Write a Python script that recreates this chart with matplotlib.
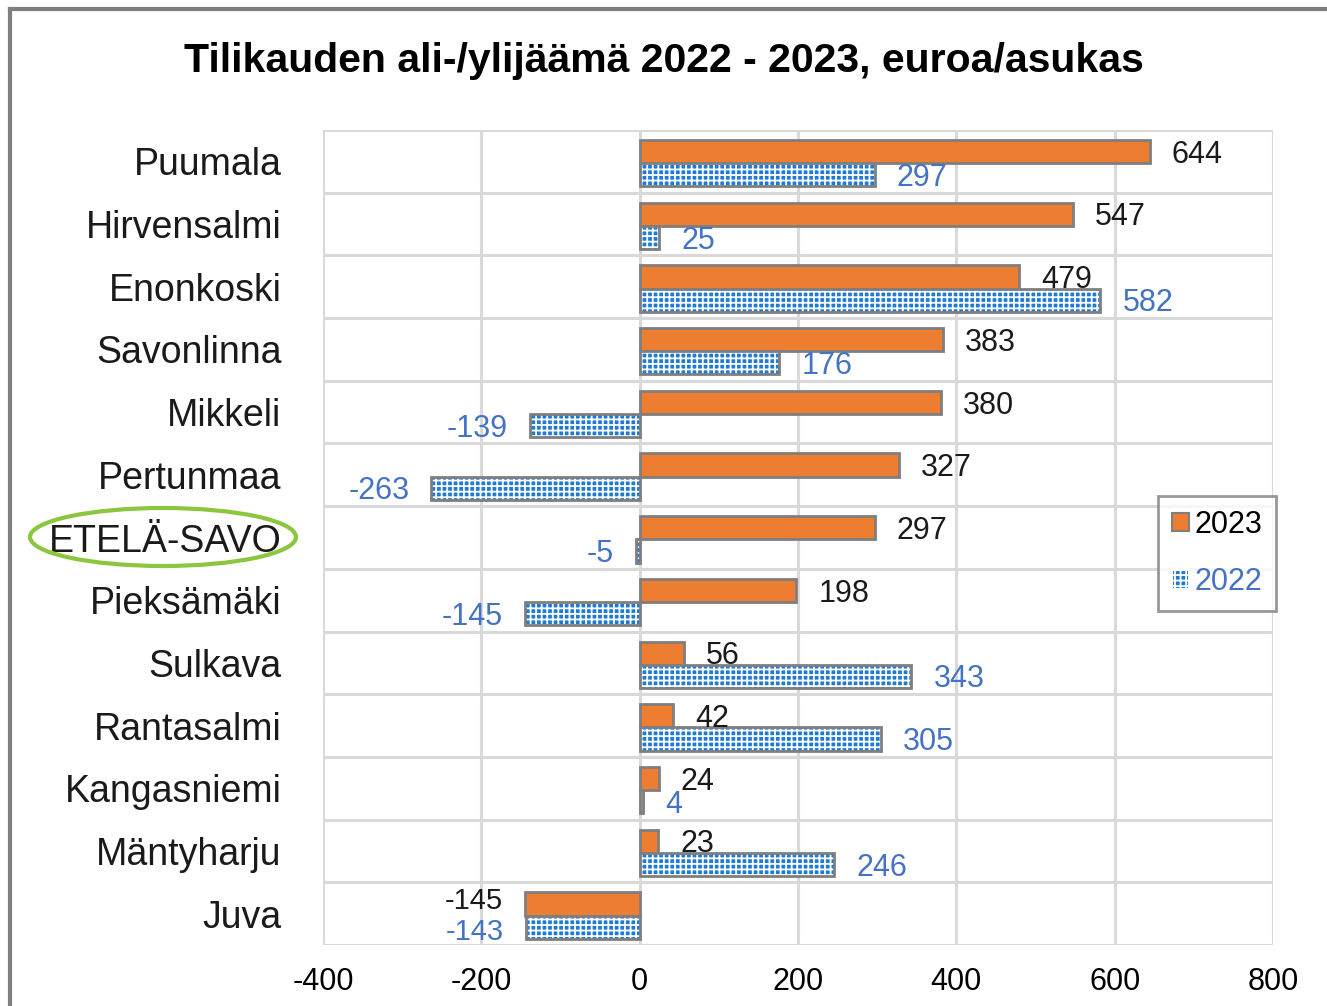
import numpy as np
import matplotlib
matplotlib.use("Agg")
import matplotlib.pyplot as plt
from matplotlib.patches import Ellipse, Patch
from matplotlib.lines import Line2D

# Data
kunnat = ["Puumala", "Hirvensalmi", "Enonkoski", "Savonlinna", "Mikkeli", "Pertunmaa",
          "ETELÄ-SAVO", "Pieksämäki", "Sulkava", "Rantasalmi", "Kangasniemi",
          "Mäntyharju", "Juva"]
v2023 = [644, 547, 479, 383, 380, 327, 297, 198, 56, 42, 24, 23, -145]
v2022 = [297, 25, 582, 176, -139, -263, -5, -145, 343, 305, 4, 246, -143]
xticks = [-400, -200, 0, 200, 400, 600, 800]

plt.rcParams['font.family'] = ['Liberation Sans', 'DejaVu Sans']
plt.rcParams['hatch.linewidth'] = 1.3

oranssi = "#ED7D31"
sininen = "#1f7ad4"
tekstisin = "#4472C4"
harmaa = "#7f7f7f"
grid = "#d9d9d9"

fig = plt.figure(figsize=(13.27, 10.06), dpi=100)
ax = fig.add_axes([323/1327, 1 - 945/1006, 950/1327, 815/1006])

n = len(kunnat)
y = np.arange(n)
h = 0.37
off = -0.03

# 2023
ax.barh(y - h/2 - off, v2023, height=h, color=oranssi, edgecolor=harmaa, linewidth=2, zorder=3)
# 2022 patterned
ax.barh(y + h/2 - off, v2022, height=h, color=sininen, edgecolor="white", hatch="+++", linewidth=0, zorder=3)
ax.barh(y + h/2 - off, v2022, height=h, color="none", edgecolor=harmaa, linewidth=2, zorder=4)

# Labels
for i in range(n):
    a = v2023[i]
    b = v2022[i]
    ya = i - h/2 - off + 0.05
    yb = i + h/2 - off + 0.05
    fs = 22
    if a < 0 and b < 0:
        # both labels on the left side, keep them apart a little
        ya -= 0.1
        yb += 0.03
        fs = 21
    if a >= 0:
        ax.text(a + 28, ya, str(a), ha="left", va="center", fontsize=fs, color="#1a1a1a", zorder=5)
    else:
        ax.text(a - 28, ya, str(a), ha="right", va="center", fontsize=fs, color="#1a1a1a", zorder=5)
    if b >= 0:
        ax.text(b + 28, yb, str(b), ha="left", va="center", fontsize=fs, color=tekstisin, zorder=5)
    else:
        ax.text(b - 28, yb, str(b), ha="right", va="center", fontsize=fs, color=tekstisin, zorder=5)

ax.set_xlim(-400, 800)
ax.set_ylim(n - 0.5, -0.5)
ax.set_xticks(xticks)
ax.set_xticklabels([str(t) for t in xticks], fontsize=22)
ax.set_yticks(y)
ax.set_yticklabels(kunnat, fontsize=27, color="#1a1a1a")
ax.tick_params(axis="both", length=0)
ax.tick_params(axis="y", pad=30)
ax.tick_params(axis="x", pad=16)

# grid
for xv in xticks:
    ax.axvline(xv, color=grid, lw=2.2, zorder=1)
for yv in np.arange(-0.5, n, 1.0):
    ax.axhline(yv, color=grid, lw=2.2, zorder=1)
for s in ax.spines.values():
    s.set_visible(False)

# legend
hand = [Patch(facecolor=oranssi, edgecolor=harmaa, linewidth=1.5),
        Patch(facecolor=sininen, edgecolor="white", hatch="+++", linewidth=1.5)]
leg = ax.legend(hand, ["2023", "2022"], loc="upper left", bbox_to_anchor=(1158/1327, 1 - 496/1006),
                bbox_transform=fig.transFigure, fontsize=22, frameon=True, fancybox=False,
                edgecolor=harmaa, handlelength=0.55, handleheight=0.55, handletextpad=0.2,
                labelspacing=0.9, borderpad=0.45, borderaxespad=0)
leg.get_frame().set_linewidth(2)
leg.get_texts()[1].set_color(tekstisin)

fig.text(0.5, 1 - 61/1006, "Tilikauden ali-/ylijäämä 2022 - 2023, euroa/asukas",
         ha="center", va="center", fontsize=29.5, fontweight="bold")

# green ellipse around ETELÄ-SAVO
fig.patches.append(Ellipse((163/1327, 1 - 537/1006), 266/1327, 58/1006, transform=fig.transFigure,
                           fill=False, edgecolor="#8cc63f", linewidth=3))

# outer frame (top and left)
fig.add_artist(Line2D([10/1327, 1], [1 - 9/1006, 1 - 9/1006], transform=fig.transFigure, color=harmaa, lw=3))
fig.add_artist(Line2D([10/1327, 10/1327], [0, 1 - 9/1006], transform=fig.transFigure, color=harmaa, lw=3))

fig.savefig("out.png", dpi=100)
